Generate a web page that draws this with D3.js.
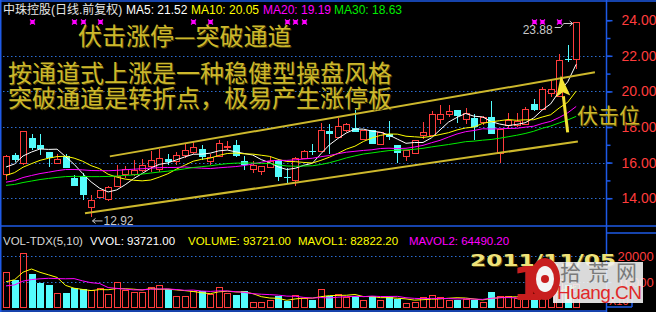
<!DOCTYPE html>
<html>
<head>
<meta charset="utf-8">
<script src="https://cdn.jsdelivr.net/npm/d3@7"></script>
<style>
  body { margin: 0; background: #000; }
  svg { display: block; }
</style>
</head>
<body>
<svg id="chart" width="656" height="312"></svg>
<script>
// daily bars, oldest first
var opens = [15.38, 16.40, 16.00, 17.38, 16.97, 16.59, 16.00, 16.35, 15.11, 15.22,
  13.48, 14.06, 13.93, 14.66, 15.34, 15.34, 15.60, 15.79, 15.66, 16.18,
  16.07, 16.40, 16.59, 16.78, 16.07, 16.35, 16.92, 17.00, 16.07, 15.66,
  15.51, 15.75, 16.12, 15.19, 15.00, 16.25, 16.67, 16.63, 17.77, 17.43,
  17.85, 17.96, 17.34, 17.85, 17.06, 17.62, 16.97, 16.35, 16.53, 17.53,
  17.53, 18.47, 18.71, 18.93, 18.47, 18.50, 18.28, 18.56, 16.56, 18.09,
  18.13, 18.19, 19.27, 19.03, 19.93, 19.72, 21.80, 21.84];
var highs = [16.40, 16.53, 17.75, 17.62, 17.61, 16.62, 16.50, 16.50, 15.28, 15.41,
  14.20, 14.44, 14.68, 15.84, 15.80, 16.12, 16.20, 16.65, 16.78, 16.50,
  16.59, 17.06, 17.15, 16.97, 16.50, 17.25, 17.23, 17.25, 16.35, 16.07,
  15.80, 16.31, 16.20, 15.67, 16.30, 16.69, 17.02, 18.24, 18.15, 18.52,
  18.20, 18.93, 17.85, 17.85, 17.71, 18.33, 16.97, 16.69, 17.29, 18.28,
  18.88, 19.21, 19.21, 18.95, 19.08, 18.75, 18.60, 19.44, 17.90, 18.80,
  18.80, 19.12, 19.59, 20.24, 20.66, 22.12, 22.62, 23.88];
var lows = [15.00, 16.01, 15.84, 16.69, 16.40, 15.75, 16.00, 15.67, 14.66, 13.88,
  12.92, 14.06, 13.84, 14.66, 15.13, 15.22, 15.47, 15.47, 15.47, 15.84,
  15.88, 16.28, 16.50, 16.12, 15.84, 16.30, 16.69, 16.30, 15.56, 15.39,
  15.30, 15.70, 14.99, 14.83, 14.68, 16.25, 16.40, 16.63, 16.50, 17.43,
  17.71, 17.70, 17.34, 17.06, 17.06, 17.25, 15.97, 16.08, 16.50, 17.34,
  17.53, 18.19, 18.56, 18.24, 18.19, 17.25, 18.09, 17.58, 15.97, 17.90,
  18.00, 18.19, 18.90, 19.00, 19.68, 19.70, 21.65, 21.28];
var closes = [16.37, 16.16, 17.75, 16.81, 16.74, 16.25, 16.22, 15.67, 14.66, 14.16,
  13.88, 14.44, 14.62, 15.22, 15.62, 15.60, 15.88, 16.12, 16.28, 16.03,
  16.44, 16.72, 16.87, 16.31, 16.31, 17.08, 16.95, 16.37, 15.84, 15.88,
  15.80, 16.07, 15.19, 15.11, 16.25, 16.63, 16.64, 17.85, 17.62, 18.03,
  18.19, 17.71, 17.85, 17.06, 17.71, 17.43, 16.53, 16.69, 17.29, 17.71,
  18.75, 18.75, 18.88, 18.61, 18.80, 17.99, 18.56, 17.58, 17.90, 18.37,
  18.31, 19.03, 18.93, 20.11, 20.11, 21.78, 21.75, 23.88];
var volumes = [138000, 108000, 211000, 131000, 98000, 90000, 58000, 58000, 77000, 74000,
  68000, 77000, 55000, 100000, 70000, 60000, 61000, 81000, 87000, 74000,
  45000, 47000, 64000, 64000, 55000, 81000, 58000, 51000, 64000, 22000,
  23000, 32000, 45000, 26000, 49000, 38000, 32000, 72000, 47000, 53000,
  41000, 47000, 32000, 47000, 32000, 41000, 36000, 19000, 23000, 41000,
  51000, 41000, 32000, 32000, 36000, 32000, 23000, 60000, 47000, 48000,
  38000, 52000, 46000, 62000, 58000, 110000, 90000, 93721];

// days before the first visible bar, only used by the moving averages
var priorCloses = [14.6, 14.5, 14.3, 14.2, 14.4, 14.5, 14.3, 14.2, 14.3, 14.3,
  14.4, 14.3, 14.5, 14.6, 14.7, 14.5, 14.4, 14.6, 14.6, 14.6,
  14.6, 14.7, 14.8, 14.9, 15.05, 15.3, 15.5, 15.7, 15.88];
var priorVolumes = [70000, 65000, 72000, 68000, 70000, 70000, 65000, 70000, 162000];

var maLabels = [21.52, 20.05, 19.19, 18.63];
var volLabels = [93721.00, 93721.00, 82822.20, 64490.20];
var markerDays = [3, 8, 9, 11, 22, 24, 33, 34, 35, 62, 63, 65];
var priceTicks = [14, 16, 18, 20, 22, 24];
var priceGrid = [14, 16, 18, 20, 22];
var volTicks = [100000, 200000];

// hand-drawn channel, [day, price]
var channelUpper = [[12.2, 16.35], [69.2, 21.07]];
var channelLower = [[9.28, 13.15], [67.2, 17.19]];
var arrowTail = [66.0, 17.70], arrowTip = [65.2, 20.90];

var RED = "#ff3c3c", CYAN = "#54fcfc", BLUE = "#1e5ae6", DOT = "#2c6cd0", GOLD = "#cdb82c";
var NUM_FONT = "'Liberation Sans', Arial, sans-serif";
var AXIS_FONT = "'Liberation Sans Narrow', 'Liberation Sans', sans-serif";
var CJK_FONT = "'Noto Sans CJK SC', sans-serif";

var svg = d3.select("#chart");
svg.append("rect").attr("width", 656).attr("height", 312).attr("fill", "#000");

var x = d3.scaleLinear().domain([0, closes.length - 1]).range([6, 576.2]);
var y = d3.scaleLinear().domain([14, 24]).range([198.2, 20.2]);
var yv = d3.scaleLinear().domain([0, 200000]).range([308, 256]);

function movingAvg(values, prior, n) {
  var all = prior.concat(values);
  return values.map(function (v, i) {
    var end = prior.length + i + 1;
    return d3.mean(all.slice(end - n, end));
  });
}

function px(v) { return Math.round(v) + 0.5; }

// grid
svg.append("g").selectAll("line").data(priceGrid).join("line")
  .attr("x1", 3).attr("x2", 605)
  .attr("y1", function (d) { return px(y(d)); })
  .attr("y2", function (d) { return px(y(d)); })
  .attr("stroke", DOT).attr("stroke-dasharray", "1.5,2.5");
svg.append("g").selectAll("line").data(volTicks).join("line")
  .attr("x1", 3).attr("x2", 605)
  .attr("y1", function (d) { return px(yv(d)); })
  .attr("y2", function (d) { return px(yv(d)); })
  .attr("stroke", DOT).attr("stroke-dasharray", "1.5,2.5");

// frame
var frame = svg.append("g").attr("stroke", BLUE).attr("stroke-width", 1.5);
frame.append("line").attr("x1", 0).attr("x2", 656).attr("y1", 1).attr("y2", 1);
frame.append("line").attr("x1", 0).attr("x2", 656).attr("y1", 226).attr("y2", 226);
frame.append("line").attr("x1", 0).attr("x2", 607).attr("y1", 311).attr("y2", 311);
frame.append("line").attr("x1", 0.75).attr("x2", 0.75).attr("y1", 0).attr("y2", 312);
frame.append("line").attr("x1", 606.5).attr("x2", 606.5).attr("y1", 0).attr("y2", 312);
frame.append("line").attr("x1", 607).attr("x2", 656).attr("y1", 233).attr("y2", 233);
frame.append("line").attr("x1", 607).attr("x2", 632).attr("y1", 307).attr("y2", 307);
frame.append("line").attr("x1", 632).attr("x2", 632).attr("y1", 288).attr("y2", 307);

// price axis
var axisG = svg.append("g").attr("transform", "translate(606.5,0)");
axisG.call(d3.axisRight(y).tickValues(d3.range(14, 24.01, 1)).tickSize(4).tickFormat(""));
axisG.append("g").call(d3.axisRight(y).tickValues(priceTicks).tickSize(6).tickPadding(9)
  .tickFormat(d3.format(".2f")));
axisG.selectAll(".domain").remove();
axisG.selectAll("line").attr("stroke", BLUE).attr("stroke-width", 1.5);
axisG.selectAll("text").attr("fill", RED).attr("font-size", 14).attr("font-family", AXIS_FONT);

var vAxis = svg.append("g").attr("transform", "translate(606.5,0)")
  .call(d3.axisRight(yv).tickValues(volTicks).tickSize(5).tickPadding(6)
    .tickFormat(function (d) { return d / 10; }));
vAxis.select(".domain").remove();
vAxis.selectAll("line").attr("stroke", BLUE).attr("stroke-width", 1.5);
vAxis.selectAll("text").attr("fill", RED).attr("font-size", 13).attr("font-family", AXIS_FONT);
svg.append("text").attr("x", 609).attr("y", 305).attr("fill", RED)
  .attr("font-size", 11).attr("font-family", AXIS_FONT).text("X10");

var days = closes.map(function (c, i) {
  return { i: i, o: opens[i], h: highs[i], l: lows[i], c: c, v: volumes[i], up: c >= opens[i] };
});

// candles
var candles = svg.append("g").selectAll("g").data(days).join("g");
candles.each(function (d) {
  var g = d3.select(this);
  var cx = px(x(d.i));
  var top = Math.round(y(Math.max(d.o, d.c)));
  var bot = Math.round(y(Math.min(d.o, d.c)));
  var col = d.up ? RED : CYAN;
  if (d.up) {
    g.append("line").attr("x1", cx).attr("x2", cx)
      .attr("y1", Math.round(y(d.h))).attr("y2", top).attr("stroke", col);
    g.append("line").attr("x1", cx).attr("x2", cx)
      .attr("y1", bot).attr("y2", Math.round(y(d.l))).attr("stroke", col);
    g.append("rect").attr("x", cx - 3).attr("y", top + 0.5)
      .attr("width", 6).attr("height", Math.max(bot - top, 1))
      .attr("fill", "#000").attr("stroke", col);
  } else {
    g.append("line").attr("x1", cx).attr("x2", cx)
      .attr("y1", Math.round(y(d.h))).attr("y2", Math.round(y(d.l))).attr("stroke", col);
    g.append("rect").attr("x", cx - 3.5).attr("y", top)
      .attr("width", 7).attr("height", Math.max(bot - top, 1)).attr("fill", col);
  }
});

// volume bars
svg.append("g").selectAll("rect").data(days).join("rect")
  .each(function (d) {
    var cx = px(x(d.i));
    var top = Math.round(yv(d.v));
    var r = d3.select(this);
    if (d.up) {
      r.attr("x", cx - 3).attr("y", top + 0.5).attr("width", 6).attr("height", 308 - top - 1)
        .attr("fill", "none").attr("stroke", RED);
    } else {
      r.attr("x", cx - 3.5).attr("y", top).attr("width", 7).attr("height", 308 - top)
        .attr("fill", CYAN);
    }
  });

// moving averages
var line = d3.line().x(function (d, i) { return x(i); });
var maSpecs = [[5, "#ffffff"], [10, "#ffff00"], [20, "#ff00ff"], [30, "#00ee00"]];
maSpecs.forEach(function (s) {
  svg.append("path").datum(movingAvg(closes, priorCloses, s[0]))
    .attr("d", line.y(function (d) { return y(d); }))
    .attr("fill", "none").attr("stroke", s[1]).attr("stroke-width", 1);
});
[[5, "#ffff00"], [10, "#ff00ff"]].forEach(function (s) {
  svg.append("path").datum(movingAvg(volumes, priorVolumes, s[0]))
    .attr("d", line.y(function (d) { return yv(d); }))
    .attr("fill", "none").attr("stroke", s[1]).attr("stroke-width", 1);
});

// info markers along the top
svg.append("g").selectAll("path").data(markerDays).join("path")
  .attr("transform", function (d) { return "translate(" + px(x(d)) + ",22)"; })
  .attr("d", "M-2.5,-2.5L2.5,2.5M-2.5,2.5L2.5,-2.5M-1.5,-1.5h3v3h-3z")
  .attr("stroke", "#ff00ff").attr("stroke-width", 1.2).attr("fill", "#ff00ff");

// high / low labels
var iLow = d3.minIndex(lows), iHigh = d3.maxIndex(highs);
var lowX = px(x(iLow)), lowY = y(lows[iLow]) + 3.5;
svg.append("path")
  .attr("d", "M" + (lowX + 11) + "," + lowY + "H" + (lowX + 1) +
    "M" + (lowX + 4) + "," + (lowY - 2.5) + "L" + (lowX + 1) + "," + lowY + "L" + (lowX + 4) + "," + (lowY + 2.5))
  .attr("stroke", "#c8c8c8").attr("fill", "none");
svg.append("text").attr("x", lowX + 12).attr("y", lowY + 4).attr("fill", "#c8c8c8")
  .attr("font-size", 12).attr("font-family", NUM_FONT).text(d3.format(".2f")(lows[iLow]));

var hiX = x(iHigh) - 3.5, hiY = Math.round(y(highs[iHigh])) + 1.5;
svg.append("path")
  .attr("d", "M" + (hiX - 18) + "," + (hiY + 4) + "H" + (hiX - 12) + "L" + (hiX - 9) + "," + hiY + "H" + hiX +
    "M" + (hiX - 3) + "," + (hiY - 2.5) + "L" + hiX + "," + hiY + "L" + (hiX - 3) + "," + (hiY + 2.5))
  .attr("stroke", "#c8c8c8").attr("fill", "none");
svg.append("text").attr("x", hiX - 20).attr("y", hiY + 10).attr("text-anchor", "end")
  .attr("fill", "#c8c8c8").attr("font-size", 12).attr("font-family", NUM_FONT)
  .text(d3.format(".2f")(highs[iHigh]));

// channel lines
[channelUpper, channelLower].forEach(function (c) {
  svg.append("line")
    .attr("x1", x(c[0][0])).attr("y1", y(c[0][1]))
    .attr("x2", x(c[1][0])).attr("y2", y(c[1][1]))
    .attr("stroke", GOLD).attr("stroke-width", 2);
});

// breakout arrow
var ax0 = x(arrowTail[0]), ay0 = y(arrowTail[1]), ax1 = x(arrowTip[0]), ay1 = y(arrowTip[1]);
var alen = Math.hypot(ax1 - ax0, ay1 - ay0);
var ux = (ax1 - ax0) / alen, uy = (ay1 - ay0) / alen;
var bx = ax1 - ux * 21, by = ay1 - uy * 21;
svg.append("line").attr("x1", ax0).attr("y1", ay0).attr("x2", bx).attr("y2", by)
  .attr("stroke", "#f2e234").attr("stroke-width", 3);
svg.append("path")
  .attr("d", "M" + ax1 + "," + ay1 + "L" + (bx - uy * 7) + "," + (by + ux * 7) +
    "L" + (bx + ux * 4) + "," + (by + uy * 4) + "L" + (bx + uy * 7) + "," + (by - ux * 7) + "Z")
  .attr("fill", "#f2e234");

// header texts
var heads = [
  ["中珠控股(日线.前复权)", 3, "#e6e6e6"],
  ["MA5: " + maLabels[0].toFixed(2), 126, "#ffffff"],
  ["MA10: " + maLabels[1].toFixed(2), 191, "#ffff00"],
  ["MA20: " + maLabels[2].toFixed(2), 263, "#ff00ff"],
  ["MA30: " + maLabels[3].toFixed(2), 334, "#00ee00"]
];
svg.append("g").selectAll("text").data(heads).join("text")
  .attr("x", function (d) { return d[1]; }).attr("y", 14)
  .attr("fill", function (d) { return d[2]; })
  .attr("font-size", 12).attr("font-family", NUM_FONT + ", 'Noto Sans CJK SC'")
  .text(function (d) { return d[0]; });

var volHeads = [
  ["VOL-TDX(5,10)", 3, "#d8d8d8"],
  ["VVOL: " + volLabels[0].toFixed(2), 90, "#ffffff"],
  ["VOLUME: " + volLabels[1].toFixed(2), 188, "#ffff00"],
  ["MAVOL1: " + volLabels[2].toFixed(2), 298, "#ffff00"],
  ["MAVOL2: " + volLabels[3].toFixed(2), 409, "#ff00ff"]
];
svg.append("g").selectAll("text").data(volHeads).join("text")
  .attr("x", function (d) { return d[1]; }).attr("y", 245)
  .attr("fill", function (d) { return d[2]; })
  .attr("font-size", 11.5).attr("font-family", NUM_FONT)
  .text(function (d) { return d[0]; });

// annotation texts
var notes = [
  ["伏击涨停—突破通道", 78, 45, 24],
  ["按通道式上涨是一种稳健型操盘风格", 8, 82, 24],
  ["突破通道是转折点，极易产生涨停板", 8, 107, 24],
  ["伏击位", 577, 123, 21]
];
var noteG = svg.append("g").attr("font-family", CJK_FONT);
noteG.selectAll("text.shadow").data(notes).join("text").attr("class", "shadow")
  .attr("x", function (d) { return d[1] + 1; }).attr("y", function (d) { return d[2] + 1; })
  .attr("font-size", function (d) { return d[3]; })
  .attr("fill", "#4a4008").text(function (d) { return d[0]; });
noteG.selectAll("text.main").data(notes).join("text").attr("class", "main")
  .attr("x", function (d) { return d[1]; }).attr("y", function (d) { return d[2]; })
  .attr("font-size", function (d) { return d[3]; })
  .attr("fill", GOLD).text(function (d) { return d[0]; });

// watermark
var wm = svg.append("g");
wm.append("text").attr("x", 471).attr("y", 267).attr("font-size", 15).attr("font-weight", "bold")
  .attr("font-family", "'DejaVu Sans', sans-serif").attr("textLength", 146)
  .attr("lengthAdjust", "spacingAndGlyphs").attr("fill", "#5a4a10").text("2011/11/05");
wm.append("text").attr("x", 470).attr("y", 266).attr("font-size", 15).attr("font-weight", "bold")
  .attr("font-family", "'DejaVu Sans', sans-serif").attr("textLength", 146)
  .attr("lengthAdjust", "spacingAndGlyphs").attr("fill", "#eee27a").text("2011/11/05");
wm.append("rect").attr("x", 553).attr("y", 262).attr("width", 90).attr("height", 41)
  .attr("fill", "#f2f2f2").attr("opacity", 0.9);
wm.append("text").attr("x", 512).attr("y", 300).attr("font-size", 46).attr("font-weight", "bold")
  .attr("font-family", "'DejaVu Sans', sans-serif").attr("fill", "#c81e1e").text("1");
wm.append("ellipse").attr("cx", 545).attr("cy", 279).attr("rx", 15).attr("ry", 21).attr("fill", "#c81e1e");
wm.append("ellipse").attr("cx", 545).attr("cy", 279).attr("rx", 9).attr("ry", 13).attr("fill", "#f4f4f4");
wm.append("circle").attr("cx", 545).attr("cy", 279).attr("r", 4).attr("fill", "#c81e1e");
wm.append("text").attr("x", 560).attr("y", 280).attr("font-size", 21)
  .attr("font-family", CJK_FONT).attr("textLength", 77).attr("fill", "#7a7a7a").text("拾荒网");
wm.append("text").attr("x", 557).attr("y", 299).attr("font-size", 19)
  .attr("font-family", NUM_FONT).attr("textLength", 85).attr("fill", "#e02828").text("Huang.CN");
</script>
</body>
</html>
